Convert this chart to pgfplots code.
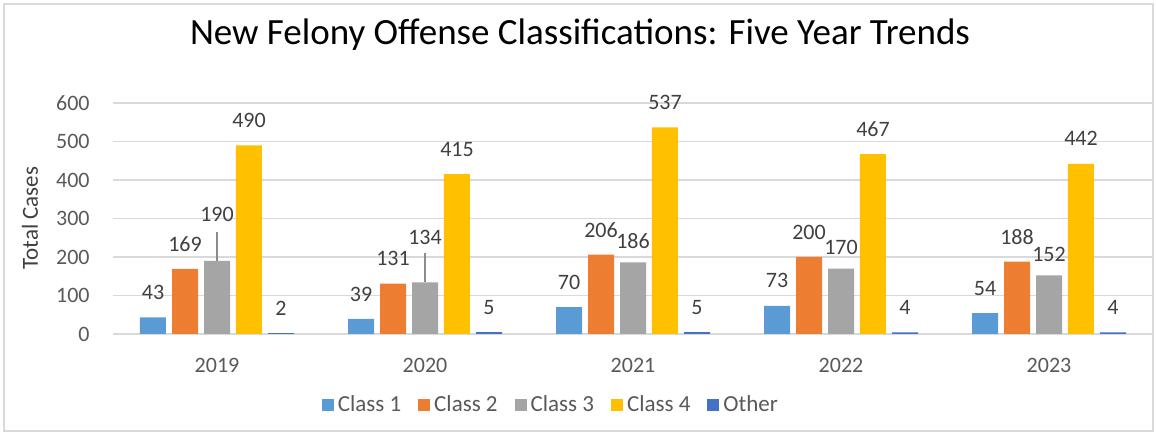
\documentclass[border=0pt]{standalone}
\usepackage{fontspec}
\setmainfont{Carlito}
\usepackage{pgfplots}
\usepackage{pgfplotstable}
\pgfplotsset{compat=1.18}

\definecolor{cone}{HTML}{5B9BD5}
\definecolor{ctwo}{HTML}{ED7D31}
\definecolor{cthree}{HTML}{A5A5A5}
\definecolor{cfour}{HTML}{FFC000}
\definecolor{cother}{HTML}{4472C4}
\definecolor{txt}{HTML}{595959}
\definecolor{lbl}{HTML}{404040}
\definecolor{gridc}{HTML}{D9D9D9}

% x = year index, y = cases, off = label lift (pt)
\pgfplotstableread{
x y off
0 43 12.5
1 39 12.5
2 70 12.5
3 73 12.5
4 54 12.5
}\classone
\pgfplotstableread{
x y off
0 169 12.5
1 131 12.5
2 206 12.5
3 200 12.5
4 188 12.5
}\classtwo
\pgfplotstableread{
x y off
0 190 23
1 134 22.7
2 186 10.5
3 170 10.5
4 152 10.5
}\classthree
\pgfplotstableread{
x y off
0 490 12.5
1 415 12.5
2 537 12.5
3 467 12.5
4 442 12.5
}\classfour
\pgfplotstableread{
x y off
0 2 12.5
1 5 12.5
2 5 12.5
3 4 12.5
4 4 12.5
}\other

\pgfplotsset{
  lab/.style={nodes near coords,
    visualization depends on={\thisrow{off} \as \off},
    every node near coord/.append style={anchor=center, yshift=\off pt,
      font=\fontsize{11}{13}\selectfont, text=lbl}},
}

\begin{document}
\begin{tikzpicture}
\path[use as bounding box] (0,0) rectangle (578pt,216pt);
\draw[gridc, line width=0.6pt] (2pt,0.5pt) rectangle (576.5pt,214pt);
\node[font=\fontsize{18.5}{22}\selectfont, text=black] at (290pt,198.5pt) {New Felony Offense Classifications: Five Year Trends};
\node[rotate=90, font=\fontsize{11.5}{14}\selectfont, text=lbl] at (15pt,107pt) {Total Cases};
\begin{axis}[
    at={(56.5pt,49pt)}, anchor=south west,
    scale only axis, width=520pt, height=115.5pt,
    ybar, bar width=0.125,
    xmin=-0.5, xmax=4.5, ymin=0, ymax=600,
    ytick={0,100,...,600},
    xtick={0,1,2,3,4},
    xticklabels={2019,2020,2021,2022,2023},
    axis line style={draw=none},
    tick style={draw=none},
    ymajorgrids, xmajorgrids=false,
    major grid style={draw=gridc, line width=0.75pt},
    ticklabel style={font=\fontsize{11}{13}\selectfont, text=txt},
    /pgf/number format/assume math mode=true,
    yticklabel style={anchor=east, inner sep=0pt, xshift=-11.5pt},
    xticklabel style={anchor=center, inner sep=0pt, yshift=-11.5pt},
    clip=false,
    legend image code/.code={\fill[#1] (0pt,-3pt) rectangle (6pt,3pt);},
    legend columns=5,
    legend style={at={(0.422,-0.307)}, anchor=center, draw=none, fill=none,
      font=\fontsize{11.5}{13}\selectfont, text=txt,
      /tikz/every even column/.append style={column sep=6.5pt}},
    legend cell align=left,
]
\addplot[lab, fill=cone, draw=none, bar shift=-0.3077] table[x=x, y=y] {\classone};
\addlegendentry{Class 1}
\addplot[lab, fill=ctwo, draw=none, bar shift=-0.1538] table[x=x, y=y] {\classtwo};
\addlegendentry{Class 2}
\addplot[lab, fill=cthree, draw=none, bar shift=0] table[x=x, y=y] {\classthree};
\addlegendentry{Class 3}
\addplot[lab, fill=cfour, draw=none, bar shift=0.1538] table[x=x, y=y] {\classfour};
\addlegendentry{Class 4}
\addplot[lab, fill=cother, draw=none, bar shift=0.3077] table[x=x, y=y] {\other};
\addlegendentry{Other}
% leader lines from the Class 3 bars to their raised labels
\addplot[sharp plot, draw=cthree!85!black, line width=0.6pt, forget plot]
    coordinates {(0,190) (0,265)};
\addplot[sharp plot, draw=cthree!85!black, line width=0.6pt, forget plot]
    coordinates {(1,134) (1,210)};
\end{axis}
\end{tikzpicture}
\end{document}
